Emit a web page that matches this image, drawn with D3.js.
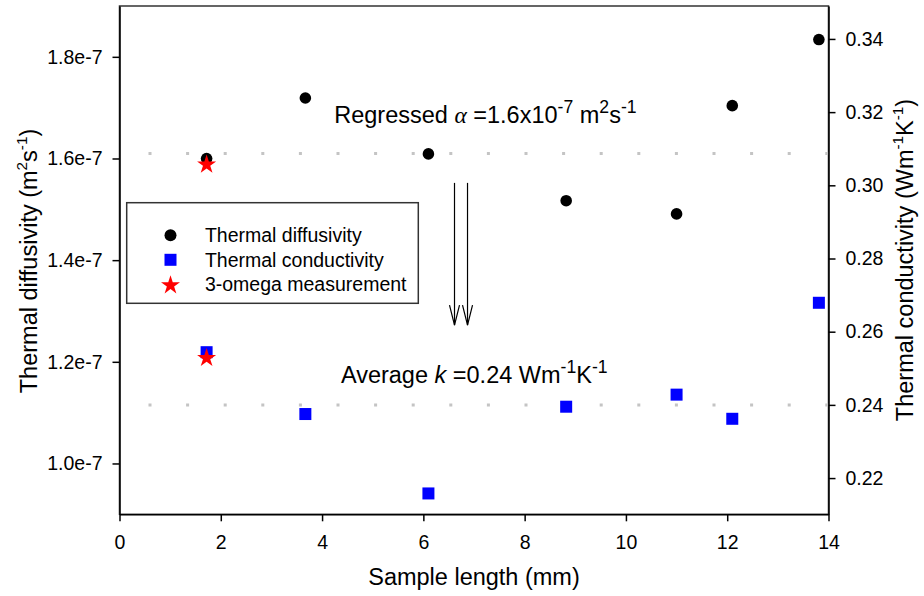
<!DOCTYPE html>
<meta charset="utf-8">
<style>

body {
  margin: 0;
  background: #fff;
}

svg {
  font-family: "Liberation Sans", Arial, sans-serif;
}

.axis text {
  font-size: 19.5px;
  fill: #000;
}

.axis path,
.axis line {
  fill: none;
  stroke: #000;
  stroke-width: 1.5px;
}

.frame {
  fill: none;
  stroke: #333;
  stroke-width: 1.5px;
}

.guide {
  stroke: #c4c4c4;
  stroke-width: 3px;
  stroke-dasharray: 3 34.6;
  stroke-dashoffset: 8.6;
}

.arrow {
  fill: none;
  stroke: #000;
  stroke-width: 1.2px;
}

.legend rect.box {
  fill: #fff;
  stroke: #333;
  stroke-width: 1.5px;
}

.legend text {
  font-size: 19.5px;
}

</style>
<body>
<script src="https://cdn.jsdelivr.net/npm/d3@7"></script>
<script>

// sample length (mm)
var lengths = [1.72, 3.67, 6.10, 8.82, 11.00, 12.10, 13.81];
// thermal diffusivity (m2/s), left axis
var diffusivity = [1.600e-7, 1.719e-7, 1.609e-7, 1.517e-7, 1.491e-7, 1.704e-7, 1.834e-7];
// thermal conductivity (W/mK), right axis
var conductivity = [0.2544, 0.2375, 0.2158, 0.2395, 0.2428, 0.2362, 0.2679];
// 3-omega measurement
var omegaLength = [1.72];
var omegaDiffusivity = [1.588e-7];
var omegaConductivity = [0.2528];

var regressedAlpha = 1.61e-7;
var averageK = 0.24;

var xTicks = [0, 2, 4, 6, 8, 10, 12, 14];
var leftTicks = [1.0e-7, 1.2e-7, 1.4e-7, 1.6e-7, 1.8e-7];
var rightTicks = [0.22, 0.24, 0.26, 0.28, 0.30, 0.32, 0.34];

var legendLabels = ["Thermal diffusivity", "Thermal conductivity", "3-omega measurement"];

var margin = {top: 6, right: 95.5, bottom: 81.7, left: 119.5},
    W = 924, H = 596,
    width = W - margin.left - margin.right,
    height = H - margin.top - margin.bottom;

var x = d3.scaleLinear().domain([0, 14]).range([0, width]);
var yL = d3.scaleLinear().domain([0.9e-7, 1.9e-7]).range([height, 0]);
var yR = d3.scaleLinear().domain([0.2101, 0.349]).range([height, 0]);

var svg = d3.select("body").append("svg")
    .attr("width", W)
    .attr("height", H)
  .append("g")
    .attr("transform", "translate(" + margin.left + "," + margin.top + ")");

// write text with superscripts / italics: parts = [[text, kind], ...]
function rich(text, parts, fs, supScale) {
  var shift = 0;
  supScale = supScale || 0.65;
  parts.forEach(function(p) {
    var t = text.append("tspan").text(p[0]);
    if (p[1] == "sup") {
      t.attr("font-size", fs * supScale).attr("dy", -0.42 * fs - shift);
      shift = -0.42 * fs;
    } else {
      if (shift) t.attr("dy", -shift);
      shift = 0;
      if (p[1] == "it") t.attr("font-style", "italic");
      if (p[1] == "greek") t.attr("font-style", "italic").attr("font-family", "'Liberation Serif', serif");
    }
  });
}

svg.append("rect")
    .attr("class", "frame")
    .attr("width", width)
    .attr("height", height);

// guide lines
svg.append("line")
    .attr("class", "guide")
    .attr("x1", 0).attr("x2", width)
    .attr("y1", yL(regressedAlpha)).attr("y2", yL(regressedAlpha));

svg.append("line")
    .attr("class", "guide")
    .attr("x1", 0).attr("x2", width)
    .attr("y1", yR(averageK)).attr("y2", yR(averageK));

// axes
svg.append("g")
    .attr("class", "axis")
    .attr("transform", "translate(0," + height + ")")
    .call(d3.axisBottom(x).tickValues(xTicks).tickSize(7).tickSizeOuter(0).tickPadding(14));

svg.append("g")
    .attr("class", "axis")
    .call(d3.axisLeft(yL).tickValues(leftTicks).tickSize(7).tickSizeOuter(0).tickPadding(10)
      .tickFormat(d3.format(".1e")));

svg.append("g")
    .attr("class", "axis")
    .attr("transform", "translate(" + width + ",0)")
    .call(d3.axisRight(yR).tickValues(rightTicks).tickSize(7).tickSizeOuter(0).tickPadding(10)
      .tickFormat(d3.format(".2f")));

// axis titles
var tx = svg.append("text")
    .attr("x", width / 2)
    .attr("y", height + 71)
    .attr("text-anchor", "middle")
    .attr("font-size", 23.5);
rich(tx, [["Sample length (mm)", ""]], 23.5);

var tl = svg.append("text")
    .attr("transform", "translate(" + (37 - margin.left) + "," + (261 - margin.top) + ") rotate(-90)")
    .attr("text-anchor", "middle")
    .attr("font-size", 23.5);
rich(tl, [["Thermal diffusivity (m", ""], ["2", "sup"], ["s", ""], ["-1", "sup"], [")", ""]], 23.5);

var tr = svg.append("text")
    .attr("transform", "translate(" + (913 - margin.left) + "," + (260 - margin.top) + ") rotate(-90)")
    .attr("text-anchor", "middle")
    .attr("font-size", 23.5);
rich(tr, [["Thermal conductivity (Wm", ""], ["-1", "sup"], ["K", ""], ["-1", "sup"], [")", ""]], 23.5);

// arrows
[6.615, 6.872].forEach(function(v) {
  var ax = x(v), y0 = yL(1.552e-7), y1 = yL(1.272e-7);
  svg.append("line").attr("class", "arrow")
      .attr("x1", ax).attr("x2", ax).attr("y1", y0).attr("y2", y1);
  svg.append("path").attr("class", "arrow")
      .attr("d", "M" + (ax - 5) + "," + (y1 - 20) + "L" + ax + "," + y1 + "L" + (ax + 5) + "," + (y1 - 20));
});

// annotations
var n1 = svg.append("text")
    .attr("x", x(4.24))
    .attr("y", yL(1.670e-7))
    .attr("font-size", 23.5);
rich(n1, [["Regressed ", ""], ["\u03b1", "greek"], [" =1.6x10", ""], ["-7", "sup"], [" m", ""], ["2", "sup"], ["s", ""], ["-1", "sup"]], 23.5, 0.75);

var n2 = svg.append("text")
    .attr("x", x(4.372))
    .attr("y", yR(0.2459))
    .attr("font-size", 23.5);
rich(n2, [["Average ", ""], ["k", "it"], [" =0.24 Wm", ""], ["-1", "sup"], ["K", ""], ["-1", "sup"]], 23.5, 0.75);

// data points
var star = d3.symbol().type(d3.symbolStar).size(112);

svg.selectAll(".dot")
    .data(lengths)
  .enter().append("circle")
    .attr("class", "dot")
    .attr("cx", function(d) { return x(d); })
    .attr("cy", function(d, i) { return yL(diffusivity[i]); })
    .attr("r", 5.8)
    .attr("fill", "#000");

svg.selectAll(".sq")
    .data(lengths)
  .enter().append("rect")
    .attr("class", "sq")
    .attr("x", function(d) { return x(d) - 6; })
    .attr("y", function(d, i) { return yR(conductivity[i]) - 6; })
    .attr("width", 12)
    .attr("height", 12)
    .attr("fill", "#0000ff");

svg.selectAll(".starD")
    .data(omegaLength)
  .enter().append("path")
    .attr("class", "starD")
    .attr("d", star)
    .attr("fill", "#ff0000")
    .attr("transform", function(d, i) { return "translate(" + x(d) + "," + yL(omegaDiffusivity[i]) + ")"; });

svg.selectAll(".starK")
    .data(omegaLength)
  .enter().append("path")
    .attr("class", "starK")
    .attr("d", star)
    .attr("fill", "#ff0000")
    .attr("transform", function(d, i) { return "translate(" + x(d) + "," + yR(omegaConductivity[i]) + ")"; });

// legend
var legend = svg.append("g")
    .attr("class", "legend")
    .attr("transform", "translate(7.2,196.7)");

legend.append("rect")
    .attr("class", "box")
    .attr("width", 291.6)
    .attr("height", 100.6);

var rows = legend.selectAll(".row")
    .data(legendLabels)
  .enter().append("g")
    .attr("class", "row")
    .attr("transform", function(d, i) { return "translate(43.8," + (32.6 + i * 24.5) + ")"; });

rows.each(function(d, i) {
  var g = d3.select(this);
  if (i == 0) g.append("circle").attr("r", 6).attr("fill", "#000");
  if (i == 1) g.append("rect").attr("x", -6).attr("y", -6).attr("width", 12).attr("height", 12).attr("fill", "#0000ff");
  if (i == 2) g.append("path").attr("d", star).attr("fill", "#ff0000").attr("transform", "translate(0,1)");
});

rows.append("text")
    .attr("x", 34.4)
    .attr("y", 7)
    .text(function(d) { return d; });

</script>
